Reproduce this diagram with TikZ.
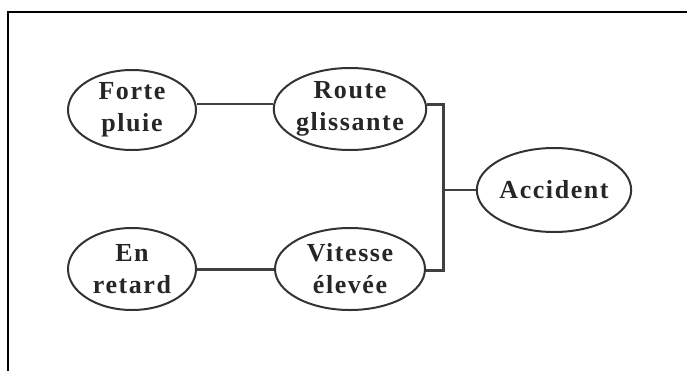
\documentclass[tikz,border=0pt]{standalone}
\usepackage{fontspec}
\setmainfont{Liberation Serif}
\newfontfamily\bubblefont[LetterSpace=6]{Liberation Serif}
\usetikzlibrary{shapes.geometric}
\tikzset{
  bubble/.style={ellipse, draw=black!80, line width=2pt, inner sep=0pt, align=center,
    font=\bubblefont\fontsize{26}{32}\selectfont\bfseries, text=black!85},
  link/.style={draw=black!75, line width=2.2pt},
  frame/.style={draw=black, line width=1.5pt}
}
\begin{document}
\begin{tikzpicture}[x=1pt,y=-1pt]
\useasboundingbox (0,0) rectangle (687,370);
\draw[frame] (8,371) -- (8,12) -- (688,12);
\node[bubble, minimum width=128pt, minimum height=80pt] (fp) at (132,110) {Forte\\pluie};
\node[bubble, minimum width=150pt, minimum height=82pt] (rg) at (350,109) {Route\\glissante};
\node[bubble, minimum width=152pt, minimum height=84pt] (acc) at (554,190) {Accident};
\node[bubble, minimum width=128pt, minimum height=82pt] (er) at (132,269) {En\\retard};
\node[bubble, minimum width=150pt, minimum height=82pt] (ve) at (350,269) {Vitesse\\élevée};
\coordinate (top) at (443,104);
\coordinate (bot) at (443,270);
\coordinate (mid) at (443,190);
\coordinate (fpl) at (132,104);
\draw[link] (fp.east |- fpl) -- (rg.west |- fpl);
\draw[link, line width=3pt] (er.east) -- (ve.west);
\draw[link, line width=3pt] (rg.east |- top) -- (top) -- (bot) -- (ve.east |- bot);
\draw[link] (mid) -- (acc.west);
\end{tikzpicture}
\end{document}
